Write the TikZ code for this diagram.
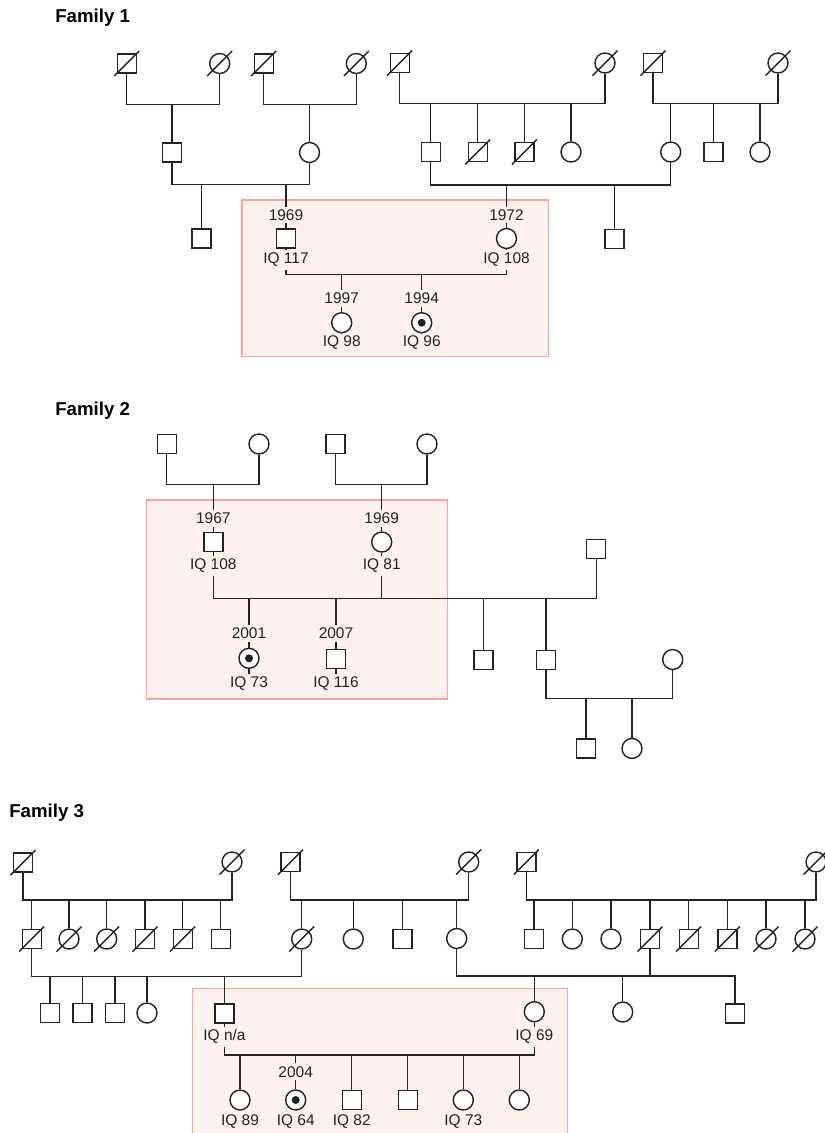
\documentclass[tikz,border=0pt]{standalone}
\usepackage{fontspec}
\setmainfont{Liberation Sans}
\definecolor{lc}{RGB}{34,34,34}
\definecolor{boxf}{RGB}{255,240,240}
\definecolor{boxc}{RGB}{255,160,160}
\newcommand\deadmark[1]{\draw[ln] ([shift={(-12.5,12.5)}]#1.center) -- ([shift={(12.5,-12.5)}]#1.center);}
\begin{document}
\begin{tikzpicture}[x=0.75pt,y=-0.75pt,
  ln/.style={draw=lc, line width=1.05pt},
  sq/.style={rectangle, draw=lc, line width=1.05pt, fill=white, minimum size=14.25pt, inner sep=0pt},
  ci/.style={circle, draw=lc, line width=1.05pt, fill=white, minimum size=15pt, inner sep=0pt},
  aff/.style={ci, path picture={\fill[lc] (path picture bounding box.center) circle (3pt);}},
  lab/.style={font=\fontsize{11.6}{13}\selectfont, inner sep=2pt, text=lc},
  ttl/.style={font=\bfseries\fontsize{14}{16}\selectfont, anchor=west, inner sep=0pt, text=black},
  bx/.style={draw=boxc, fill=boxf, line width=1.1pt}]
\useasboundingbox (0,0) rectangle (825,1133);
\fill[white] (0,0) rectangle (825,1133);

% ================= Family 1 =================
\node[ttl] (t1) at (55,18) {Family 1};
\draw[bx] (242,200) rectangle (548.3,356.7);

\node[sq] (a1) at (126.7,63.5) {}; \deadmark{a1}
\node[ci] (a2) at (219.7,63.5) {}; \deadmark{a2}
\node[sq] (a3) at (263.7,63.5) {}; \deadmark{a3}
\node[ci] (a4) at (356.3,63.5) {}; \deadmark{a4}
\node[sq] (a5) at (399.7,63) {}; \deadmark{a5}
\node[ci] (a6) at (605,63) {}; \deadmark{a6}
\node[sq] (a7) at (653,63) {}; \deadmark{a7}
\node[ci] (a8) at (778,63) {}; \deadmark{a8}

\coordinate (m1) at (172,104.3);
\coordinate (m2) at (309.5,104.3);
\coordinate (m3) at (500,103.5);
\coordinate (m4) at (700,103.5);
\draw[ln] (a1.south) |- (m1) -| (a2.south);
\draw[ln] (a3.south) |- (m2) -| (a4.south);
\draw[ln] (a5.south) |- (m3) -| (a6.south);
\draw[ln] (a7.south) |- (m4) -| (a8.south);

\node[sq] (b1) at (172,152.5) {};
\node[ci] (b2) at (309.5,152.5) {};
\node[sq] (b3) at (430.7,152) {};
\node[sq] (b4) at (477.7,152) {}; \deadmark{b4}
\node[sq] (b5) at (524.3,152) {}; \deadmark{b5}
\node[ci] (b6) at (571,152) {};
\node[ci] (b7) at (670.7,152) {};
\node[sq] (b8) at (713.3,152) {};
\node[ci] (b9) at (760,152) {};

\draw[ln] (m1) -- (b1.north);
\draw[ln] (m2) -- (b2.north);
\foreach \n in {b3,b4,b5,b6} \draw[ln] (\n |- m3) -- (\n.north);
\foreach \n in {b7,b8,b9} \draw[ln] (\n |- m4) -- (\n.north);

\coordinate (m5) at (240,184.3);
\coordinate (m6) at (550,185);
\draw[ln] (b1.south) |- (m5) -| (b2.south);
\draw[ln] (b3.south) |- (m6) -| (b7.south);

\node[sq] (c1) at (201.5,238.5) {};
\node[lab] (y1969) at (286,215) {1969};
\node[sq] (c2) at (286,238.5) {};
\node[lab] (iq117) at (286,260) {IQ 117};
\node[lab] (y1972) at (506.5,215) {1972};
\node[ci] (c3) at (506.5,238.5) {};
\node[lab] (iq108) at (506.5,260) {IQ 108};
\node[sq] (c4) at (614.3,239) {};

\draw[ln] (c1 |- m5) -- (c1.north);
\draw[ln] (y1969 |- m5) -- (y1969.north);
\draw[ln] (y1969.south) -- (c2.north);
\draw[ln] (c2.south) -- (iq117.north);
\draw[ln] (y1972 |- m6) -- (y1972.north);
\draw[ln] (y1972.south) -- (c3.north);
\draw[ln] (c3.south) -- (iq108.north);
\draw[ln] (c4 |- m6) -- (c4.north);

\coordinate (m7) at (380,274.3);
\draw[ln] (iq117.south) |- (m7) -| (iq108.south);

\node[lab] (y1997) at (341.7,298.3) {1997};
\node[ci] (d1) at (341.7,322.7) {};
\node[lab] (iq98) at (341.7,342.7) {IQ 98};
\node[lab] (y1994) at (421.7,298.3) {1994};
\node[aff] (d2) at (421.7,322.7) {};
\node[lab] (iq96) at (421.7,342.7) {IQ 96};
\draw[ln] (y1997 |- m7) -- (y1997.north);
\draw[ln] (y1997.south) -- (d1.north);
\draw[ln] (d1.south) -- (iq98.north);
\draw[ln] (y1994 |- m7) -- (y1994.north);
\draw[ln] (y1994.south) -- (d2.north);
\draw[ln] (d2.south) -- (iq96.north);

% ================= Family 2 =================
\node[ttl] (t2) at (55,411) {Family 2};
\draw[bx] (146.7,500) rectangle (447.7,699);

\node[sq] (e1) at (166.7,444) {};
\node[ci] (e2) at (259,444) {};
\node[sq] (e3) at (335.5,444) {};
\node[ci] (e4) at (427,444) {};
\coordinate (q1) at (213.3,484.3);
\coordinate (q2) at (381.7,484.3);
\draw[ln] (e1.south) |- (q1) -| (e2.south);
\draw[ln] (e3.south) |- (q2) -| (e4.south);

\node[lab] (y1967) at (213.3,518.3) {1967};
\node[sq] (f1) at (213.3,542) {};
\node[lab] (iq108b) at (213.3,565.7) {IQ 108};
\node[lab] (y1969b) at (381.7,518.3) {1969};
\node[ci] (f2) at (381.7,542) {};
\node[lab] (iq81) at (381.7,565.7) {IQ 81};
\node[sq] (f3) at (596.2,549) {};

\draw[ln] (q1) -- (y1967.north);
\draw[ln] (y1967.south) -- (f1.north);
\draw[ln] (f1.south) -- (iq108b.north);
\draw[ln] (q2) -- (y1969b.north);
\draw[ln] (y1969b.south) -- (f2.north);
\draw[ln] (f2.south) -- (iq81.north);

\coordinate (q3) at (400,598.5);
\draw[ln] (iq108b.south) |- (q3) -| (f3.south);
\draw[ln] (iq81.south) -- (iq81 |- q3);

\node[lab] (y2001) at (249,633.3) {2001};
\node[aff] (g1) at (249,658.3) {};
\node[lab] (iq73) at (249,683.3) {IQ 73};
\node[lab] (y2007) at (336,633.3) {2007};
\node[sq] (g2) at (336,659) {};
\node[lab] (iq116) at (336,683.3) {IQ 116};
\node[sq] (g3) at (483.3,660) {};
\node[sq] (g4) at (546,660) {};
\node[ci] (g5) at (672.7,659.5) {};

\draw[ln] (y2001 |- q3) -- (y2001.north);
\draw[ln] (y2001.south) -- (g1.north);
\draw[ln] (g1.south) -- (iq73.north);
\draw[ln] (y2007 |- q3) -- (y2007.north);
\draw[ln] (y2007.south) -- (g2.north);
\draw[ln] (g2.south) -- (iq116.north);
\draw[ln] (g3 |- q3) -- (g3.north);
\draw[ln] (g4 |- q3) -- (g4.north);

\coordinate (q4) at (610,698.3);
\draw[ln] (g4.south) |- (q4) -| (g5.south);
\node[sq] (h1) at (586,748.5) {};
\node[ci] (h2) at (632,748.5) {};
\draw[ln] (h1 |- q4) -- (h1.north);
\draw[ln] (h2 |- q4) -- (h2.north);

% ================= Family 3 =================
\node[ttl] (t3) at (9,813) {Family 3};
\draw[bx] (192.7,988.3) rectangle (567.7,1145);

\node[sq] (j1) at (23,862.5) {}; \deadmark{j1}
\node[ci] (j2) at (232,862) {}; \deadmark{j2}
\node[sq] (j3) at (290.5,862) {}; \deadmark{j3}
\node[ci] (j4) at (468.7,862) {}; \deadmark{j4}
\node[sq] (j5) at (526.3,862) {}; \deadmark{j5}
\node[ci] (j6) at (816,862) {}; \deadmark{j6}

\coordinate (n1) at (127,900);
\coordinate (n2) at (380,900);
\coordinate (n3) at (670,900);
\draw[ln] (j1.south) |- (n1) -| (j2.south);
\draw[ln] (j3.south) |- (n2) -| (j4.south);
\draw[ln] (j5.south) |- (n3) -| (j6.south);

\node[sq] (k1) at (31.7,939) {}; \deadmark{k1}
\node[ci] (k2) at (69,939) {}; \deadmark{k2}
\node[ci] (k3) at (106.7,939) {}; \deadmark{k3}
\node[sq] (k4) at (145,939) {}; \deadmark{k4}
\node[sq] (k5) at (182.7,939) {}; \deadmark{k5}
\node[sq] (k6) at (220.7,939) {};
\node[ci] (k7) at (301.7,939) {}; \deadmark{k7}
\node[ci] (k8) at (353.3,939) {};
\node[sq] (k9) at (402.3,939) {};
\node[ci] (k10) at (456.7,938.5) {};
\node[sq] (k11) at (534,939) {};
\node[ci] (k12) at (572.3,939) {};
\node[ci] (k13) at (611,939) {};
\node[sq] (k14) at (650,939) {}; \deadmark{k14}
\node[sq] (k15) at (688.7,939) {}; \deadmark{k15}
\node[sq] (k16) at (727.3,939) {}; \deadmark{k16}
\node[ci] (k17) at (766,939) {}; \deadmark{k17}
\node[ci] (k18) at (805,939) {}; \deadmark{k18}

\foreach \n in {k1,k2,k3,k4,k5,k6} \draw[ln] (\n |- n1) -- (\n.north);
\foreach \n in {k7,k8,k9,k10} \draw[ln] (\n |- n2) -- (\n.north);
\foreach \n in {k11,k12,k13,k14,k15,k16,k17,k18} \draw[ln] (\n |- n3) -- (\n.north);

\coordinate (n4) at (150,976.7);
\coordinate (n5) at (600,976);
\draw[ln] (k1.south) |- (n4) -| (k7.south);
\draw[ln] (k10.south) |- (n5) -| (k14.south);

\node[sq] (l1) at (50,1013) {};
\node[sq] (l2) at (82.3,1013) {};
\node[sq] (l3) at (115,1013) {};
\node[ci] (l4) at (147,1013) {};
\node[sq] (l5) at (224.5,1013.5) {};
\node[ci] (l6) at (534.3,1011.7) {};
\node[ci] (l7) at (622.7,1012) {};
\node[sq] (l8) at (735,1013.5) {};
\foreach \n in {l1,l2,l3,l4,l5} \draw[ln] (\n |- n4) -- (\n.north);
\foreach \n in {l6,l7} \draw[ln] (\n |- n5) -- (\n.north);
\draw[ln] (n5) -| (l8.north);

\node[lab] (iqna) at (224.5,1036.7) {IQ n/a};
\node[lab] (iq69) at (534.3,1036.7) {IQ 69};
\draw[ln] (l5.south) -- (iqna.north);
\draw[ln] (l6.south) -- (iq69.north);

\coordinate (n6) at (380,1055);
\draw[ln] (iqna.south) |- (n6) -| (iq69.south);

\node[ci] (p1) at (240,1100) {};
\node[lab] (y2004) at (295.7,1071.7) {2004};
\node[aff] (p2) at (295.7,1100) {};
\node[sq] (p3) at (351.7,1100) {};
\node[sq] (p4) at (407.7,1100) {};
\node[ci] (p5) at (463.3,1100) {};
\node[ci] (p6) at (519.3,1100) {};
\foreach \n in {p1,p3,p4,p5,p6} \draw[ln] (\n |- n6) -- (\n.north);
\draw[ln] (y2004 |- n6) -- (y2004.north);
\draw[ln] (y2004.south) -- (p2.north);

\node[lab] (iq89) at (240,1121.7) {IQ 89};
\node[lab] (iq64) at (295.7,1121.7) {IQ 64};
\node[lab] (iq82) at (351.7,1121.7) {IQ 82};
\node[lab] (iq73b) at (463.3,1121.7) {IQ 73};
\end{tikzpicture}
\end{document}
